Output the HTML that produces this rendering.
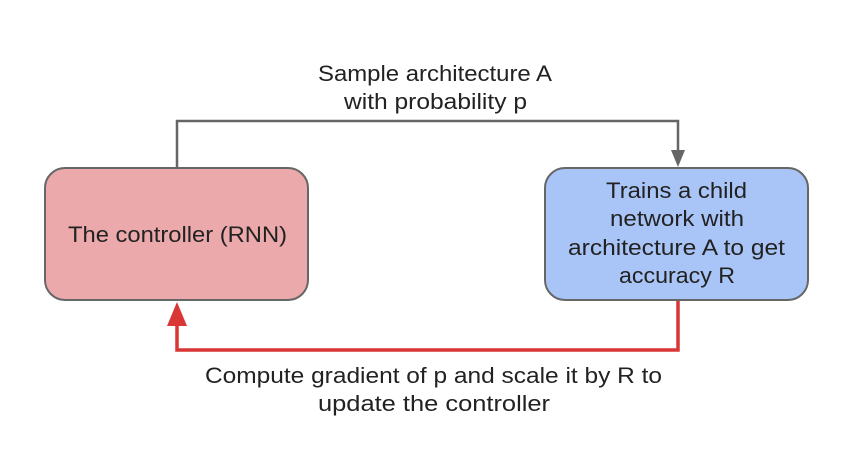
<!DOCTYPE html>
<html><head><meta charset="utf-8"><style>
html,body{margin:0;padding:0;background:#fff;width:844px;height:476px;overflow:hidden}
svg{display:block}
text{font-family:"Liberation Sans",sans-serif;font-size:22px;fill:#222}
</style></head><body>
<svg width="844" height="476" viewBox="0 0 844 476">
<rect width="844" height="476" fill="#fff"/>
<polyline points="177,168 177,121 678,121 678,152" fill="none" stroke="#666" stroke-width="2.5"/>
<polygon points="671,150 685,150 678,167" fill="#666"/>
<rect x="45" y="168" width="263" height="132" rx="20" fill="#eba9ab" stroke="#666" stroke-width="2"/>
<rect x="545" y="168" width="263" height="132" rx="20" fill="#a9c5f7" stroke="#666" stroke-width="2"/>
<polyline points="678,301 678,350 177,350 177,322" fill="none" stroke="#d93636" stroke-width="3.5"/>
<polygon points="167,326 187,326 177,302" fill="#d93636"/>
<text x="318" y="81" textLength="234" lengthAdjust="spacingAndGlyphs">Sample architecture A</text>
<text x="344" y="109" textLength="183" lengthAdjust="spacingAndGlyphs">with probability p</text>
<text x="68" y="242" textLength="219" lengthAdjust="spacingAndGlyphs">The controller (RNN)</text>
<text x="606" y="198" textLength="141" lengthAdjust="spacingAndGlyphs">Trains a child</text>
<text x="610" y="226" textLength="134" lengthAdjust="spacingAndGlyphs">network with</text>
<text x="568" y="255" textLength="217" lengthAdjust="spacingAndGlyphs">architecture A to get</text>
<text x="619" y="283" textLength="116" lengthAdjust="spacingAndGlyphs">accuracy R</text>
<text x="205" y="383" textLength="457" lengthAdjust="spacingAndGlyphs">Compute gradient of p and scale it by R to</text>
<text x="318" y="411" textLength="232" lengthAdjust="spacingAndGlyphs">update the controller</text>
</svg>
</body></html>
